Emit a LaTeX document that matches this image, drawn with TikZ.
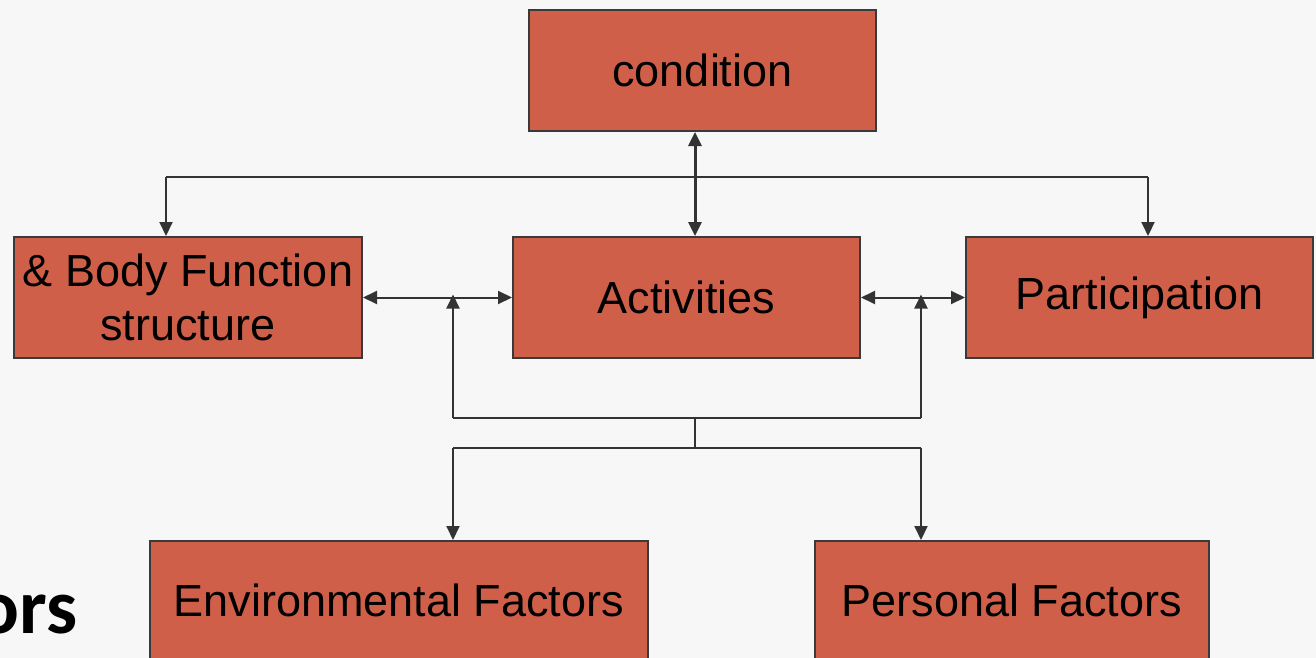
\documentclass[tikz,border=0pt]{standalone}
\usepackage{fontspec}
\setmainfont{Liberation Sans}
\newfontfamily\calib{Carlito}
\usetikzlibrary{arrows.meta}
\definecolor{bg}{HTML}{F7F7F7}
\definecolor{boxfill}{HTML}{CF5F48}
\definecolor{boxedge}{HTML}{3A3A3A}
\definecolor{wire}{HTML}{333333}
\tikzset{
  box/.style={draw=boxedge, line width=2pt, fill=boxfill, rectangle,
    inner sep=0pt, align=center, font=\fontsize{45}{54}\selectfont,
    text=black},
  boxtext/.style={font=\fontsize{45}{54}\selectfont, anchor=base, inner sep=0pt},
  wireline/.style={draw=wire, line width=2pt},
  heavywire/.style={draw=wire, line width=3pt},
  tip/.tip={Triangle[length=14pt,width=13pt]},
}
\begin{document}
\begin{tikzpicture}[x=1pt,y=-1pt]
  % canvas
  \fill[bg] (0,0) rectangle (1316,658);
  \useasboundingbox (0,0) rectangle (1316,658);
  \clip (0,0) rectangle (1316,658);

  % boxes
  \node[box, minimum width=347pt, minimum height=121pt] (cond) at (702.5,70.5) {condition};
  \node[box, minimum width=348pt, minimum height=121pt] (body) at (188,297.5) {\& Body Function\\structure};
  \node[box, minimum width=347pt, minimum height=121pt] (act) at (686.5,297.5) {Activities};
  \node[box, minimum width=347pt, minimum height=121pt] (part) at (1139.5,297.5) {Participation};
  \node[box, minimum width=498pt, minimum height=160pt, anchor=north] (env) at (399,540) {};
  \node[box, minimum width=394pt, minimum height=160pt, anchor=north] (pers) at (1012,540) {};
  \node[boxtext] (envtxt) at (399,616) {Environmental Factors};
  \node[boxtext] (perstxt) at (1012,616) {Personal Factors};

  % side text
  \node[font=\calib\bfseries\fontsize{78}{80}\selectfont, anchor=base east, inner sep=0pt] (ors) at (78,633) {ors};

  % junction points
  \coordinate (tl) at (166,177);
  \coordinate (tr) at (1148,177);
  \coordinate (cx) at (695,0);
  \coordinate (jl) at (453,418);
  \coordinate (jr) at (921,418);
  \coordinate (jm) at (695,418);
  \coordinate (jm2) at (695,448);
  \coordinate (bl) at (453,448);
  \coordinate (br) at (921,448);

  % condition <-> activities
  \draw[heavywire, {tip}-{tip}] (cond.south -| cx) -- (act.north -| cx);
  % top branch to body function and participation
  \draw[wireline, -{tip}] (tl) -- (tl |- body.north);
  \draw[wireline, -{tip}] (tr) -- (tr |- part.north);
  \draw[wireline] (tl) -- (tr);
  % horizontal links between the middle row
  \draw[wireline, {tip}-{tip}] (body.east) -- (act.west);
  \draw[wireline, {tip}-{tip}] (act.east) -- (part.west);
  % contextual factors feeding upward
  \draw[wireline, -{tip}] (jl) -- ([yshift=3pt]jl |- act.west);
  \draw[wireline, -{tip}] (jr) -- ([yshift=3pt]jr |- act.west);
  \draw[wireline] (jl) -- (jr);
  \draw[wireline] (jm) -- (jm2);
  \draw[wireline] (bl) -- (br);
  \draw[wireline, -{tip}] (bl) -- (bl |- env.north);
  \draw[wireline, -{tip}] (br) -- (br |- pers.north);
\end{tikzpicture}
\end{document}
